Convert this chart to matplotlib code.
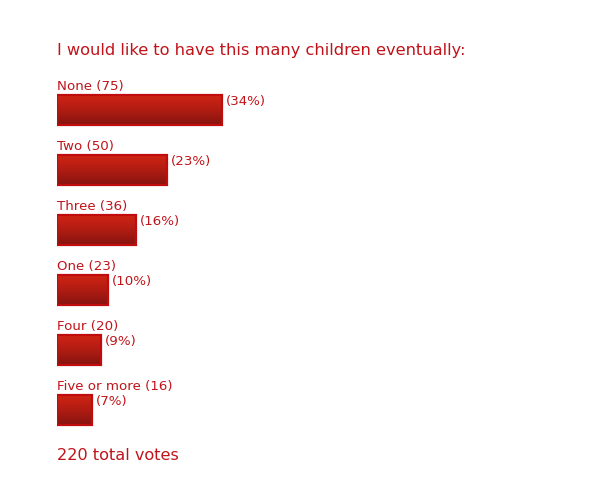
import matplotlib
matplotlib.use("Agg")
import matplotlib.pyplot as plt
import numpy as np
from matplotlib.colors import LinearSegmentedColormap

title = "I would like to have this many children eventually:"
categories = ["None", "Two", "Three", "One", "Four", "Five or more"]
votes = [75, 50, 36, 23, 20, 16]
percents = [34, 23, 16, 10, 9, 7]
total_votes = 220

W, H = 590, 480
fig = plt.figure(figsize=(W / 100, H / 100), dpi=100)
fig.patch.set_facecolor("white")

px_per_vote = 2.2
left_px = 57
ax = fig.add_axes([left_px / W, 0, (W - left_px) / W, 1])
row_px = 60.0
first_center = 110.0
xlim = (0, (W - left_px) / px_per_vote)
ylim = ((H - first_center) / row_px, -first_center / row_px)
ax.axis("off")

text_color = "#c0141a"
bar_h = 30 / row_px
cmap = LinearSegmentedColormap.from_list("g", ["#d02414", "#b01c12", "#861410"])
grad = np.linspace(0, 1, 128).reshape(-1, 1)

for i, (cat, v, p) in enumerate(zip(categories, votes, percents)):
    bars = ax.barh(i, v, height=bar_h, left=0, facecolor="none",
                   edgecolor="#c00c0c", linewidth=1.6, zorder=4)
    b = bars[0]
    x0, y0 = b.get_x(), b.get_y()
    w, h = b.get_width(), b.get_height()
    im = ax.imshow(grad, cmap=cmap, aspect="auto", interpolation="bilinear",
                   origin="upper", extent=(x0, x0 + w, y0 + h, y0), zorder=3)
    ax.text(0, i - 20 / row_px, f"{cat} ({v})", color=text_color, fontsize=9.6,
            va="baseline", ha="left", family="DejaVu Sans")
    ax.text(v + 4 / px_per_vote, i - 15.5 / row_px, f"({p}%)", color=text_color,
            fontsize=9.6, va="top", ha="left", family="DejaVu Sans")

ax.set_xlim(*xlim)
ax.set_ylim(*ylim)

fig.text(left_px / W, 1 - 55.5 / H, title, color=text_color, fontsize=11.7,
         va="baseline", ha="left", family="DejaVu Sans")
fig.text(left_px / W, 1 - 460 / H, f"{total_votes} total votes", color=text_color,
         fontsize=11.6, va="baseline", ha="left", family="DejaVu Sans")

fig.savefig("out.png", dpi=100, facecolor="white")
